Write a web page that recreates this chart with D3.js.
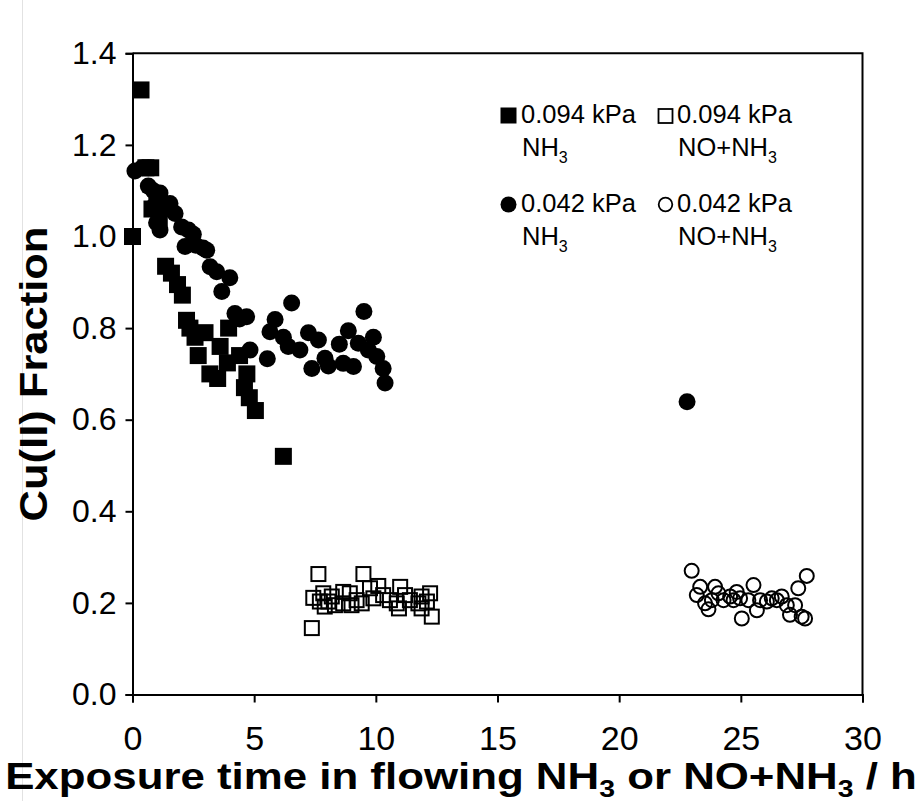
<!DOCTYPE html>
<html>
<head>
<meta charset="utf-8">
<script src="https://cdn.jsdelivr.net/npm/d3@7/dist/d3.min.js"></script>
<style>
  html, body { margin: 0; padding: 0; background: #fff; }
  svg { display: block; font-family: "Liberation Sans", Arial, Helvetica, sans-serif; }
</style>
</head>
<body>
<svg id="chart" width="924" height="801"></svg>
<script>
// Cu(II) fraction vs exposure time, four series
const xTicks = [0, 5, 10, 15, 20, 25, 30];
const yTicks = [0, 0.2, 0.4, 0.6, 0.8, 1.0, 1.2, 1.4];

// 0.094 kPa NH3 (filled squares): [time / h, Cu(II) fraction]
const nh3High = [
  [0, 1.00], [0.35, 1.32], [0.55, 1.15], [0.75, 1.15], [0.8, 1.06], [1.0, 1.09],
  [1.1, 1.04], [1.36, 0.935], [1.6, 0.92], [1.85, 0.895], [2.05, 0.872], [2.22, 0.817],
  [2.36, 0.80], [2.57, 0.78], [2.7, 0.74], [2.98, 0.79], [3.18, 0.70], [3.5, 0.69],
  [3.6, 0.76], [3.9, 0.724], [3.95, 0.80], [4.4, 0.74], [4.7, 0.70], [4.6, 0.67],
  [4.8, 0.648], [5.05, 0.62], [6.2, 0.52]
];

// 0.042 kPa NH3 (filled circles)
const nh3Low = [
  [0.1, 1.143], [0.4, 1.15], [0.65, 1.15], [0.65, 1.11], [0.86, 1.10], [0.86, 1.065],
  [0.99, 1.03], [1.13, 1.095], [1.13, 1.014], [1.34, 1.06], [1.54, 1.072], [1.75, 1.05],
  [2.02, 1.021], [2.16, 0.978], [2.3, 1.014], [2.5, 1.005], [2.6, 0.981], [2.9, 0.975],
  [3.05, 0.97], [3.19, 0.934], [3.46, 0.923], [3.67, 0.88], [4.0, 0.91], [4.21, 0.832],
  [4.4, 0.82], [4.69, 0.825], [4.83, 0.752], [5.54, 0.733], [5.65, 0.792], [5.86, 0.819],
  [6.2, 0.78], [6.4, 0.76], [6.54, 0.855], [6.88, 0.752], [7.23, 0.79], [7.37, 0.712],
  [7.64, 0.774], [7.91, 0.734], [8.05, 0.717], [8.5, 0.765], [8.66, 0.723], [8.87, 0.794],
  [9.08, 0.716], [9.28, 0.767], [9.51, 0.836], [9.69, 0.752], [9.9, 0.78], [10.04, 0.738],
  [10.3, 0.712], [10.38, 0.68], [22.79, 0.639]
];

// 0.094 kPa NO+NH3 (open squares)
const noNh3High = [
  [7.37, 0.145], [7.64, 0.263], [9.49, 0.263], [12.3, 0.17], [7.43, 0.211], [7.84, 0.221],
  [8.05, 0.203], [8.32, 0.195], [8.66, 0.224], [8.66, 0.199], [9.0, 0.195], [9.21, 0.206],
  [9.42, 0.199], [9.76, 0.232], [9.9, 0.21], [10.1, 0.237], [10.3, 0.217], [10.58, 0.206],
  [10.86, 0.199], [11.0, 0.235], [11.2, 0.217], [11.4, 0.206], [11.75, 0.199], [11.88, 0.214],
  [12.23, 0.221], [12.1, 0.203], [8.19, 0.214], [7.7, 0.203], [7.9, 0.192], [8.93, 0.221],
  [10.95, 0.188], [11.88, 0.188]
];

// 0.042 kPa NO+NH3 (open circles)
const noNh3Low = [
  [22.98, 0.270], [27.71, 0.259], [25.04, 0.166], [23.33, 0.235], [23.19, 0.217],
  [23.53, 0.199], [23.67, 0.186], [23.94, 0.235], [24.08, 0.221], [24.29, 0.206],
  [24.56, 0.214], [24.83, 0.224], [24.97, 0.21], [25.31, 0.206], [25.52, 0.239],
  [25.66, 0.184], [25.79, 0.206], [26.07, 0.203], [26.27, 0.21], [26.48, 0.206],
  [26.68, 0.214], [26.89, 0.195], [27.02, 0.174], [27.23, 0.195], [27.36, 0.232],
  [27.5, 0.17], [27.64, 0.166], [23.81, 0.206], [24.7, 0.206]
];

(function draw() {
  const svg = d3.select("#chart");
  const H = 801;
  const plotLeft = 132.5, plotRight = 862.5, plotTop = 53.3, plotBottom = 694.5;

  const x = d3.scaleLinear().domain([0, 30]).range([plotLeft, plotRight]);
  const y = d3.scaleLinear().domain([0, 1.4]).range([plotBottom, plotTop]);

  // faint vertical rule near the left edge
  svg.append("line").attr("x1", 22.5).attr("x2", 22.5).attr("y1", 0).attr("y2", H)
    .attr("stroke", "#e2e2e2").attr("stroke-width", 1);

  // frame: top and right edges
  svg.append("path")
    .attr("d", `M${plotLeft},${plotTop}H${plotRight}V${plotBottom}`)
    .attr("fill", "none").attr("stroke", "#000").attr("stroke-width", 2);

  // y axis
  const yAxis = svg.append("g").attr("transform", `translate(${plotLeft},0)`)
    .call(d3.axisLeft(y).tickValues(yTicks).tickFormat(d3.format(".1f")).tickSize(7).tickPadding(9));
  yAxis.select(".domain").attr("stroke-width", 2);
  yAxis.selectAll(".tick line").attr("stroke-width", 2);
  yAxis.selectAll(".tick text").attr("font-size", 32).attr("fill", "#000")
    .attr("font-family", "'Liberation Sans', Arial, sans-serif");

  // x axis
  const xAxis = svg.append("g").attr("transform", `translate(0,${plotBottom})`)
    .call(d3.axisBottom(x).tickValues(xTicks).tickFormat(d3.format("d")).tickSize(8).tickPadding(23));
  xAxis.select(".domain").attr("stroke-width", 2);
  xAxis.selectAll(".tick line").attr("stroke-width", 2);
  xAxis.selectAll(".tick text").attr("font-size", 34).attr("fill", "#000")
    .attr("font-family", "'Liberation Sans', Arial, sans-serif");

  // markers
  const sqFill = 17, sqOpen = 14, rFill = 8.5, rOpen = 7;

  svg.append("g").selectAll("rect").data(nh3High).join("rect")
    .attr("x", d => x(d[0]) - sqFill / 2).attr("y", d => y(d[1]) - sqFill / 2)
    .attr("width", sqFill).attr("height", sqFill).attr("fill", "#000");

  svg.append("g").selectAll("circle").data(nh3Low).join("circle")
    .attr("cx", d => x(d[0])).attr("cy", d => y(d[1])).attr("r", rFill).attr("fill", "#000");

  svg.append("g").selectAll("rect").data(noNh3High).join("rect")
    .attr("x", d => x(d[0]) - sqOpen / 2).attr("y", d => y(d[1]) - sqOpen / 2)
    .attr("width", sqOpen).attr("height", sqOpen)
    .attr("fill", "none").attr("stroke", "#000").attr("stroke-width", 2);

  svg.append("g").selectAll("circle").data(noNh3Low).join("circle")
    .attr("cx", d => x(d[0])).attr("cy", d => y(d[1])).attr("r", rOpen)
    .attr("fill", "none").attr("stroke", "#000").attr("stroke-width", 2);

  // legend
  const legend = svg.append("g").attr("font-size", 25.5).attr("fill", "#000");
  const legendItems = [
    { kind: "sqFill", cx: 508.5, cy: 115.5, tx: 521, ty: 123, line1: "0.094 kPa", gas: "NH" },
    { kind: "sqOpen", cx: 665.5, cy: 116, tx: 677, ty: 123, line1: "0.094 kPa", gas: "NO+NH" },
    { kind: "cFill", cx: 508.5, cy: 204.5, tx: 521, ty: 212, line1: "0.042 kPa", gas: "NH" },
    { kind: "cOpen", cx: 665.5, cy: 204.5, tx: 677, ty: 212, line1: "0.042 kPa", gas: "NO+NH" }
  ];
  legendItems.forEach(it => {
    if (it.kind === "sqFill") legend.append("rect").attr("x", it.cx - 8).attr("y", it.cy - 8).attr("width", 16).attr("height", 16).attr("fill", "#000");
    if (it.kind === "sqOpen") legend.append("rect").attr("x", it.cx - 7).attr("y", it.cy - 7).attr("width", 14).attr("height", 14).attr("fill", "none").attr("stroke", "#000").attr("stroke-width", 1.8);
    if (it.kind === "cFill") legend.append("circle").attr("cx", it.cx).attr("cy", it.cy).attr("r", 8).attr("fill", "#000");
    if (it.kind === "cOpen") legend.append("circle").attr("cx", it.cx).attr("cy", it.cy).attr("r", 6.8).attr("fill", "none").attr("stroke", "#000").attr("stroke-width", 1.8);
    legend.append("text").attr("x", it.tx).attr("y", it.ty).text(it.line1);
    const t = legend.append("text").attr("x", it.tx + 1).attr("y", it.ty + 33);
    t.append("tspan").text(it.gas);
    t.append("tspan").attr("font-size", 16).attr("dy", 7).text("3");
  });

  // stretch a text element horizontally (in its own frame) to a given length, keeping its centre
  function fitLength(sel, target, cx, cy) {
    const w = sel.node().getBBox().width;
    const s = target / w;
    sel.attr("transform", `translate(${cx},${cy}) scale(${s},1)`);
  }

  // x axis title
  const xt = svg.append("text").attr("x", 0).attr("y", 0).attr("text-anchor", "middle")
    .attr("font-size", 37).attr("font-weight", "bold").attr("fill", "#000");
  xt.append("tspan").text("Exposure time in flowing NH");
  xt.append("tspan").attr("font-size", 24).attr("dy", 8).text("3");
  xt.append("tspan").attr("dy", -8).text(" or NO+NH");
  xt.append("tspan").attr("font-size", 24).attr("dy", 8).text("3");
  xt.append("tspan").attr("dy", -8).text(" / h");
  fitLength(xt, 912, 461, 789);

  // y axis title
  const yt = svg.append("text").attr("x", 0).attr("y", 0)
    .attr("text-anchor", "middle").attr("font-size", 38).attr("font-weight", "bold").attr("fill", "#000")
    .text("Cu(II) Fraction");
  const yw = yt.node().getBBox().width;
  yt.attr("transform", `translate(47,374) rotate(-90) scale(${295 / yw},1)`);
})();
</script>
</body>
</html>
